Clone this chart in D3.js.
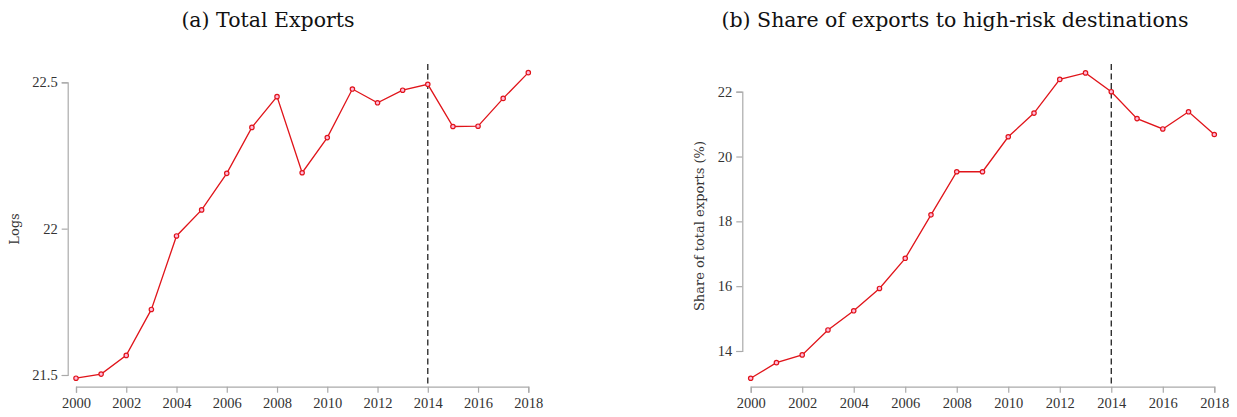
<!DOCTYPE html>
<html lang="en">
<head>
<meta charset="UTF-8">
<title>Exports</title>
<style>
  body { margin: 0; background: #fff; }
  svg { display: block; }
  .tick text { font-family: 'Liberation Serif', serif; font-size: 14.5px; fill: #333; }
  .domain, .tick line { stroke: #aaa; stroke-width: 1.2px; }
  .title { font-family: 'DejaVu Serif', serif; font-size: 20.5px; fill: #111; }
  .ylab { font-family: 'DejaVu Serif', serif; font-size: 13px; fill: #333; }
</style>
</head>
<body>
<svg width="1237" height="417"></svg>
<script src="https://d3js.org/d3.v7.min.js"></script>
<script>
// data
const years = d3.range(2000, 2019);
const totalExports = [21.489, 21.503, 21.567, 21.724, 21.975, 22.064, 22.189, 22.346, 22.451,
  22.191, 22.311, 22.477, 22.430, 22.473, 22.493, 22.349, 22.350, 22.445, 22.533];
const highRiskShare = [13.16, 13.64, 13.88, 14.65, 15.24, 15.93, 16.86, 18.20, 19.53,
  19.53, 20.61, 21.34, 22.38, 22.58, 22.00, 21.17, 20.85, 21.38, 20.68];
const xTicks = [2000, 2002, 2004, 2006, 2008, 2010, 2012, 2014, 2016, 2018];
const leftTicks = [21.5, 22, 22.5];
const rightTicks = [14, 16, 18, 20, 22];
const breakYear = 2014;

const svg = d3.select("svg");

function panel(opt) {
  const g = svg.append("g");
  const x = d3.scaleLinear().domain([2000, 2018]).range([opt.x0, opt.x1]);
  const y = d3.scaleLinear().domain(opt.yDomain).range(opt.yRange);

  g.append("g")
    .attr("transform", `translate(0,${opt.axisY})`)
    .call(d3.axisBottom(x).tickValues(xTicks).tickFormat(d3.format("d")).tickSizeOuter(0).tickSize(6).tickPadding(5));

  g.append("g")
    .attr("transform", `translate(${opt.axisX},0)`)
    .call(d3.axisLeft(y).tickValues(opt.ticks).tickFormat(d => String(d)).tickSizeOuter(0).tickSize(6).tickPadding(4));

  g.append("line")
    .attr("x1", x(breakYear)).attr("x2", x(breakYear))
    .attr("y1", opt.top).attr("y2", opt.axisY)
    .attr("stroke", "#222").attr("stroke-width", 1.3)
    .attr("stroke-dasharray", "6,3.5");

  const pts = years.map((yr, i) => [yr, opt.values[i]]);
  g.append("path")
    .datum(pts)
    .attr("fill", "none")
    .attr("stroke", "#e0141a")
    .attr("stroke-width", 1.3)
    .attr("d", d3.line().x(d => x(d[0])).y(d => y(d[1])));

  g.selectAll("circle.pt")
    .data(pts)
    .join("circle")
    .attr("class", "pt")
    .attr("cx", d => x(d[0]))
    .attr("cy", d => y(d[1]))
    .attr("r", 2.2)
    .attr("fill", "#fbd")
    .attr("stroke", "#e0141a")
    .attr("stroke-width", 1.2);

  g.append("text")
    .attr("class", "title")
    .attr("x", opt.titleX).attr("y", 27)
    .attr("text-anchor", "middle")
    .text(opt.title);

  g.append("text")
    .attr("class", "ylab")
    .attr("transform", `translate(${opt.labX},${opt.labY}) rotate(-90)`)
    .attr("text-anchor", "middle")
    .text(opt.ylabel);
}

panel({
  x0: 76, x1: 528.3, axisY: 386.7, axisX: 67.7, top: 64,
  yDomain: [21.5, 22.5], yRange: [375, 82.3], ticks: leftTicks,
  values: totalExports, title: "(a) Total Exports", titleX: 268,
  ylabel: "Logs", labX: 19, labY: 229
});

panel({
  x0: 750.7, x1: 1214.3, axisY: 386.7, axisX: 742.3, top: 64,
  yDomain: [14, 22], yRange: [351, 91.7], ticks: rightTicks,
  values: highRiskShare, title: "(b) Share of exports to high-risk destinations", titleX: 955,
  ylabel: "Share of total exports (%)", labX: 704, labY: 226
});
</script>
</body>
</html>
